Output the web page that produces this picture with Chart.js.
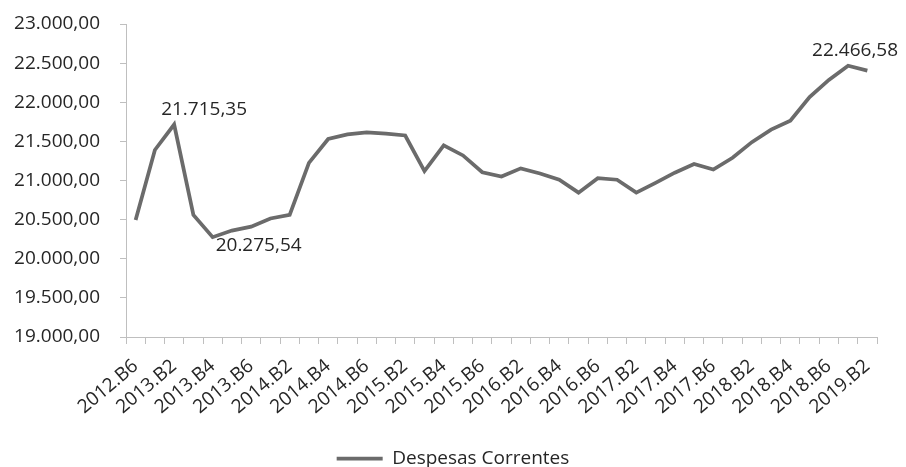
<!DOCTYPE html>
<html lang="pt">
<head>
<meta charset="utf-8">
<title>Despesas Correntes</title>
<script src="https://cdn.jsdelivr.net/npm/chart.js@4"></script>
<style>
  html, body { margin: 0; padding: 0; background: #ffffff; }
  #wrap { width: 906px; height: 467px; position: relative; }
</style>
</head>
<body>
<div id="wrap"><canvas id="chart"></canvas></div>
<script>
// Bimonthly periods
const categories = [
  '2012.B6',
  '2013.B1', '2013.B2', '2013.B3', '2013.B4', '2013.B5', '2013.B6',
  '2014.B1', '2014.B2', '2014.B3', '2014.B4', '2014.B5', '2014.B6',
  '2015.B1', '2015.B2', '2015.B3', '2015.B4', '2015.B5', '2015.B6',
  '2016.B1', '2016.B2', '2016.B3', '2016.B4', '2016.B5', '2016.B6',
  '2017.B1', '2017.B2', '2017.B3', '2017.B4', '2017.B5', '2017.B6',
  '2018.B1', '2018.B2', '2018.B3', '2018.B4', '2018.B5', '2018.B6',
  '2019.B1', '2019.B2'
];

// Despesas Correntes per period
const despesasCorrentes = [
  20495,
  21390, 21715.35, 20560, 20275.54, 20360, 20410,
  20515, 20560, 21225, 21530, 21590, 21615,
  21600, 21575, 21120, 21450, 21320, 21105,
  21050, 21155, 21090, 21010, 20845, 21030,
  21010, 20845, 20970, 21100, 21210, 21140,
  21290, 21490, 21650, 21765, 22065, 22285,
  22466.58, 22405
];

// Y axis range and step
const yMin = 19000;
const yMax = 23000;
const yStep = 500;

// Points that carry a value label, with the label's offset from the point
const labelledPoints = [
  { index: 2,  dx: -13, dy: -15 },
  { index: 4,  dx: 3,   dy: 8 },
  { index: 37, dx: -36, dy: -15 }
];

const FONT = 'Open Sans';
const FONT_SIZE = 19;
const TEXT = '#262626';
const AXIS = '#bfbfbf';
const LINE = '#6b6b6b';

// 22466.58 -> "22.466,58"
function fmtBR(v) {
  const [ip, dp] = Math.abs(v).toFixed(2).split('.');
  const grouped = ip.replace(/\B(?=(\d{3})+(?!\d))/g, '.');
  return (v < 0 ? '-' : '') + grouped + ',' + dp;
}

const valueLabels = {
  id: 'valueLabels',
  afterDatasetsDraw(chart) {
    const meta = chart.getDatasetMeta(0);
    const ctx = chart.ctx;
    ctx.save();
    ctx.font = FONT_SIZE + 'px "' + FONT + '"';
    ctx.fillStyle = TEXT;
    ctx.textAlign = 'left';
    ctx.textBaseline = 'middle';
    labelledPoints.forEach(p => {
      const el = meta.data[p.index];
      ctx.fillText(fmtBR(despesasCorrentes[p.index]), el.x + p.dx, el.y + p.dy);
    });
    ctx.restore();
  }
};

new Chart(document.getElementById('chart'), {
  type: 'line',
  data: {
    labels: categories,
    datasets: [{
      label: 'Despesas Correntes',
      data: despesasCorrentes,
      borderColor: LINE,
      backgroundColor: LINE,
      borderWidth: 3.75,
      pointRadius: 0,
      pointHoverRadius: 0,
      tension: 0,
      fill: false,
      yAxisID: 'y'
    }]
  },
  options: {
    responsive: true,
    maintainAspectRatio: false,
    animation: false,
    events: [],
    layout: { padding: { top: 24, right: 0, left: 0, bottom: -11 } },
    plugins: {
      tooltip: { enabled: false },
      legend: {
        position: 'bottom',
        labels: {
          usePointStyle: true,
          pointStyle: 'line',
          pointStyleWidth: 46,
          color: TEXT,
          padding: 0,
          font: { family: FONT, size: FONT_SIZE }
        }
      }
    },
    scales: {
      x: {
        type: 'category',
        offset: true,
        grid: {
          display: true,
          offset: true,
          drawOnChartArea: false,
          drawTicks: true,
          tickLength: 7,
          color: AXIS
        },
        border: { display: true, color: AXIS, width: 1 },
        ticks: {
          autoSkip: false,
          minRotation: 40,
          maxRotation: 40,
          padding: 11,
          color: TEXT,
          font: { family: FONT, size: FONT_SIZE },
          callback: function (value, index) {
            return index % 2 === 0 ? this.getLabelForValue(value) : '';
          }
        },
        afterFit(axis) { axis.height = 112; }
      },
      y: {
        min: yMin,
        max: yMax,
        grid: {
          display: true,
          drawOnChartArea: false,
          drawTicks: true,
          tickLength: 6,
          color: AXIS
        },
        border: { display: true, color: AXIS, width: 1 },
        ticks: {
          stepSize: yStep,
          padding: 20,
          color: TEXT,
          font: { family: FONT, size: FONT_SIZE },
          callback: v => fmtBR(v)
        },
        afterFit(axis) {
          axis.width = 126;
          axis.paddingTop = 0;
          axis.paddingBottom = 0;
        }
      },
      // blank right-hand margin beside the plot (keeps the legend centred on the page)
      rightMargin: {
        position: 'right',
        min: yMin,
        max: yMax,
        grid: { display: false },
        border: { display: false },
        ticks: { display: false },
        afterFit(axis) {
          axis.width = 29;
          axis.paddingTop = 0;
          axis.paddingBottom = 0;
        }
      }
    }
  },
  plugins: [valueLabels]
});
</script>
</body>
</html>
